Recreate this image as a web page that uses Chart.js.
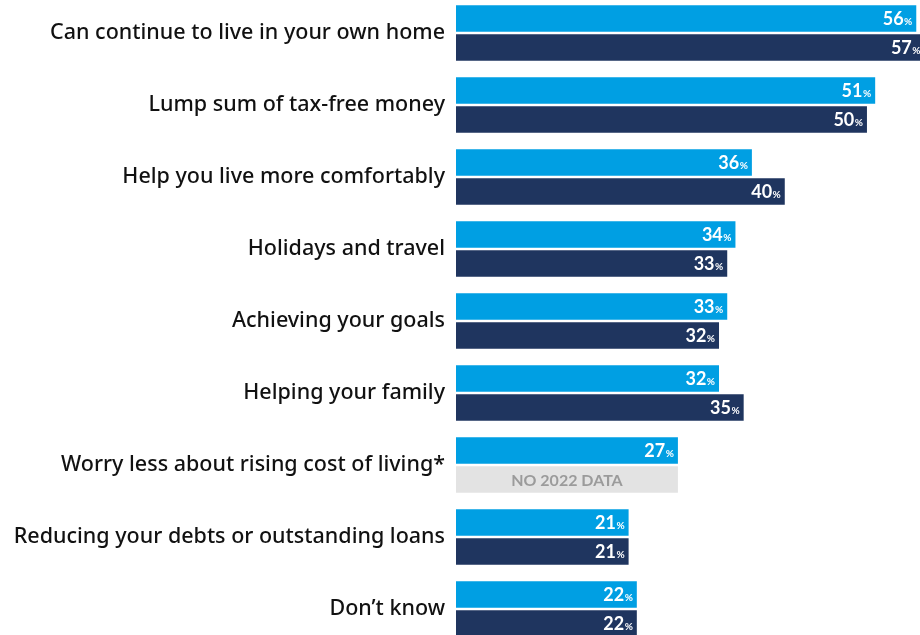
<!DOCTYPE html>
<html>
<head>
<meta charset="utf-8">
<script src="https://cdn.jsdelivr.net/npm/chart.js@4/dist/chart.umd.min.js"></script>
<style>
  html, body { margin: 0; padding: 0; background: #fff; overflow: hidden; width: 920px; height: 635px; }
  #wrap { position: absolute; left: 0; top: -3px; width: 936px; height: 648px; }
</style>
</head>
<body>
<div id="wrap"><canvas id="c"></canvas></div>
<script>
// Reasons people give for releasing equity, 2023 vs 2022 (% of respondents)
const categories = [
  'Can continue to live in your own home',
  'Lump sum of tax-free money',
  'Help you live more comfortably',
  'Holidays and travel',
  'Achieving your goals',
  'Helping your family',
  'Worry less about rising cost of living*',
  'Reducing your debts or outstanding loans',
  'Don\u2019t know'
];
const share2023 = [56, 51, 36, 34, 33, 32, 27, 21, 22];
const share2022 = [57, 50, 40, 33, 32, 35, null, 21, 22];
const noDataText = 'NO 2022 DATA';

const LIGHT = '#009fe3';
const NAVY = '#1f355f';
const GREY = '#e3e3e3';

// A missing 2022 value is shown as a grey placeholder as long as the 2023 bar
const placeholder2022 = share2022.map((v, i) => v === null ? share2023[i] : v);

const valueLabels = {
  id: 'valueLabels',
  afterDatasetsDraw(chart) {
    const ctx = chart.ctx;
    ctx.save();
    chart.data.datasets.forEach((ds, di) => {
      const meta = chart.getDatasetMeta(di);
      meta.data.forEach((bar, i) => {
        const raw = di === 0 ? share2023[i] : share2022[i];
        if (raw === null) {
          ctx.font = 'bold 16px Lato';
          ctx.fillStyle = '#9b9b9b';
          ctx.textAlign = 'center';
          ctx.textBaseline = 'middle';
          ctx.fillText(noDataText, (bar.base + bar.x) / 2, bar.y + 1);
          return;
        }
        const right = bar.x - 4;
        const baseY = bar.y + 6.5;
        ctx.fillStyle = '#ffffff';
        ctx.textBaseline = 'alphabetic';
        ctx.textAlign = 'right';
        ctx.font = 'bold 10px Lato';
        const pw = ctx.measureText('%').width;
        ctx.fillText('%', right, baseY);
        ctx.font = 'bold 18px Lato';
        ctx.fillText(String(raw), right - pw - 0.5, baseY);
      });
    });
    ctx.restore();
  }
};

new Chart(document.getElementById('c'), {
  type: 'bar',
  data: {
    labels: categories,
    datasets: [
      {
        label: '2023',
        data: share2023,
        backgroundColor: LIGHT,
        categoryPercentage: 0.806,
        barPercentage: 0.914
      },
      {
        label: '2022',
        data: placeholder2022,
        backgroundColor: share2022.map(v => v === null ? GREY : NAVY),
        categoryPercentage: 0.806,
        barPercentage: 0.914
      }
    ]
  },
  options: {
    indexAxis: 'y',
    responsive: true,
    maintainAspectRatio: false,
    animation: false,
    layout: { padding: 0 },
    plugins: {
      legend: { display: false },
      tooltip: { enabled: false }
    },
    scales: {
      x: { display: false, min: 0, max: 58.4 },
      y: {
        grid: { display: false, drawTicks: false },
        border: { display: false },
        ticks: {
          color: '#111111',
          padding: 11,
          font: { family: 'Noto Sans', size: 21.5, weight: '500' }
        },
        afterFit(scale) {
          scale.width = 456;
          scale.paddingTop = 0;
          scale.paddingBottom = 0;
        }
      }
    }
  },
  plugins: [valueLabels]
});
</script>
</body>
</html>
